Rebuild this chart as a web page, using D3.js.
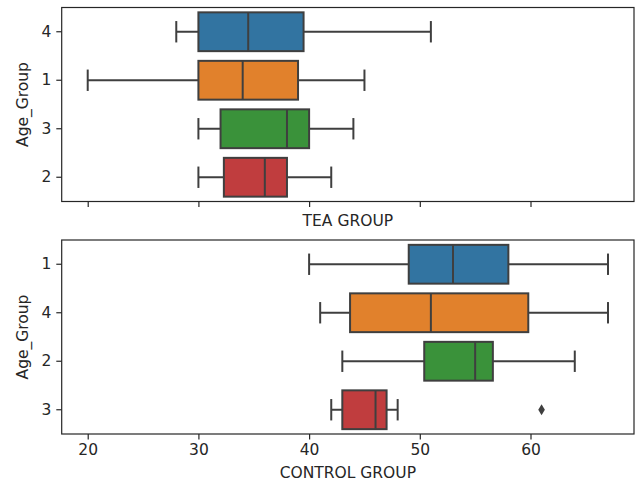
<!DOCTYPE html>
<html>
<head>
<meta charset="utf-8">
<script src="https://cdn.jsdelivr.net/npm/d3@7"></script>
<style>
  body { margin: 0; background: #fff; }
  text { font-family: "DejaVu Sans", sans-serif; fill: #262626; }
</style>
</head>
<body>
<svg id="chart" width="637" height="488"></svg>
<script>
// five number summaries: [low whisker, q1, median, q3, high whisker]
var teaCats = ["4", "1", "3", "2"];
var teaStats = [
  [28, 30, 34.5, 39.5, 51],
  [20, 30, 34, 39, 45],
  [30, 32, 38, 40, 44],
  [30, 32.3, 36, 38, 42]
];
var teaOutliers = [[], [], [], []];

var ctrlCats = ["1", "4", "2", "3"];
var ctrlStats = [
  [40, 49, 53, 58, 67],
  [41, 43.7, 51, 59.8, 67],
  [43, 50.4, 55, 56.6, 64],
  [42, 43, 46, 47, 48]
];
var ctrlOutliers = [[], [], [], [61]];

var xTicks = [20, 30, 40, 50, 60];
var palette = ["#3274a1", "#e1812c", "#3a923a", "#c03d3e"];

var svg = d3.select("#chart");
var lineCol = "#3f3f3f";
var fs = 15.5;

var left = 61.7, right = 634;
var x = d3.scaleLinear().domain([17.65, 69.35]).range([left, right]);

function panel(cats, stats, outliers, top, bottom, xlabel, showTickLabels) {
  var data = cats.map(function(c, i) {
    return {cat: c, s: stats[i], out: outliers[i], col: palette[i]};
  });

  var y = d3.scaleBand().domain(cats).range([top, bottom]);
  var bh = y.bandwidth() * 0.8;
  var capH = bh * 0.5;

  var g = svg.append("g");

  // x axis
  var xAxis = d3.axisBottom(x)
      .tickValues(xTicks)
      .tickSize(5.4)
      .tickPadding(5);
  if (!showTickLabels) xAxis.tickFormat("");
  var gx = g.append("g")
      .attr("transform", "translate(0," + bottom + ")")
      .call(xAxis);
  gx.select(".domain").remove();
  gx.selectAll("line").attr("stroke", "#262626").attr("stroke-width", 1.2);
  gx.selectAll("text").attr("font-size", fs).attr("fill", "#262626")
      .attr("font-family", "DejaVu Sans");

  // y axis
  var yAxis = d3.axisLeft(y).tickSize(5.4).tickPadding(5);
  var gy = g.append("g")
      .attr("transform", "translate(" + left + ",0)")
      .call(yAxis);
  gy.select(".domain").remove();
  gy.selectAll("line").attr("stroke", "#262626").attr("stroke-width", 1.2);
  gy.selectAll("text").attr("font-size", fs).attr("fill", "#262626")
      .attr("font-family", "DejaVu Sans");

  var box = g.selectAll(".box")
      .data(data)
    .enter().append("g")
      .attr("class", "box");

  // whiskers
  box.append("line")
      .attr("x1", function(d) { return x(d.s[0]); })
      .attr("x2", function(d) { return x(d.s[1]); })
      .attr("y1", function(d) { return y(d.cat) + y.bandwidth() / 2; })
      .attr("y2", function(d) { return y(d.cat) + y.bandwidth() / 2; })
      .attr("stroke", lineCol).attr("stroke-width", 2);
  box.append("line")
      .attr("x1", function(d) { return x(d.s[3]); })
      .attr("x2", function(d) { return x(d.s[4]); })
      .attr("y1", function(d) { return y(d.cat) + y.bandwidth() / 2; })
      .attr("y2", function(d) { return y(d.cat) + y.bandwidth() / 2; })
      .attr("stroke", lineCol).attr("stroke-width", 2);

  // caps
  [0, 4].forEach(function(k) {
    box.append("line")
        .attr("x1", function(d) { return x(d.s[k]); })
        .attr("x2", function(d) { return x(d.s[k]); })
        .attr("y1", function(d) { return y(d.cat) + y.bandwidth() / 2 - capH / 2; })
        .attr("y2", function(d) { return y(d.cat) + y.bandwidth() / 2 + capH / 2; })
        .attr("stroke", lineCol).attr("stroke-width", 2)
        .attr("stroke-linecap", "square");
  });

  // boxes
  box.append("rect")
      .attr("x", function(d) { return x(d.s[1]); })
      .attr("width", function(d) { return x(d.s[3]) - x(d.s[1]); })
      .attr("y", function(d) { return y(d.cat) + (y.bandwidth() - bh) / 2; })
      .attr("height", bh)
      .attr("fill", function(d) { return d.col; })
      .attr("stroke", lineCol).attr("stroke-width", 2);

  // medians
  box.append("line")
      .attr("x1", function(d) { return x(d.s[2]); })
      .attr("x2", function(d) { return x(d.s[2]); })
      .attr("y1", function(d) { return y(d.cat) + (y.bandwidth() - bh) / 2; })
      .attr("y2", function(d) { return y(d.cat) + (y.bandwidth() + bh) / 2; })
      .attr("stroke", lineCol).attr("stroke-width", 2);

  // outliers (thin diamond)
  box.selectAll(".flier")
      .data(function(d) { return d.out.map(function(v) { return {v: v, cat: d.cat}; }); })
    .enter().append("path")
      .attr("class", "flier")
      .attr("d", "M0,-5.5L3.3,0L0,5.5L-3.3,0Z")
      .attr("transform", function(d) {
        return "translate(" + x(d.v) + "," + (y(d.cat) + y.bandwidth() / 2) + ")";
      })
      .attr("fill", lineCol);

  // frame
  g.append("rect")
      .attr("x", left).attr("y", top)
      .attr("width", right - left).attr("height", bottom - top)
      .attr("fill", "none")
      .attr("stroke", "#262626").attr("stroke-width", 1.2);

  // labels
  g.append("text")
      .attr("x", (left + right) / 2)
      .attr("y", showTickLabels ? bottom + 44 : bottom + 24)
      .attr("text-anchor", "middle")
      .attr("font-size", fs)
      .text(xlabel);

  g.append("text")
      .attr("transform", "translate(28," + ((top + bottom) / 2) + ") rotate(-90)")
      .attr("text-anchor", "middle")
      .attr("font-size", fs)
      .text("Age_Group");
}

panel(teaCats, teaStats, teaOutliers, 7.5, 201.5, "TEA GROUP", false);
panel(ctrlCats, ctrlStats, ctrlOutliers, 240, 434, "CONTROL GROUP", true);
</script>
</body>
</html>
